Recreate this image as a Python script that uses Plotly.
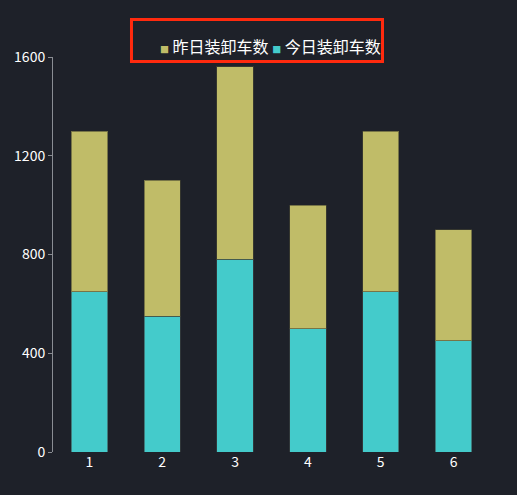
import plotly.graph_objects as go

''' datos '''
categorias = ['1', '2', '3', '4', '5', '6']
hoy = [650, 550, 780, 500, 650, 450]       # 今日装卸车数
ayer = [650, 550, 780, 500, 650, 450]      # 昨日装卸车数

fondo = '#1e2129'
fuente = 'Noto Sans CJK SC'
col_hoy = '#44cbcb'
col_ayer = '#c0bc68'

fig = go.Figure()
fig.add_trace(
    go.Bar(
        x=categorias,
        y=hoy,
        name='今日装卸车数',
        marker=dict(color=col_hoy, line=dict(color='rgba(60,70,70,0.6)', width=1)),
        showlegend=False,
    )
)
fig.add_trace(
    go.Bar(
        x=categorias,
        y=ayer,
        name='昨日装卸车数',
        marker=dict(color=col_ayer, line=dict(color='rgba(70,70,50,0.6)', width=1)),
        showlegend=False,
    )
)

# leyenda hecha a mano (cuadritos pequeños)
cuadro = "<span style='font-size:9px;color:%s'>■</span>"
leyenda = (cuadro % col_ayer) + '&nbsp;昨日装卸车数&nbsp;' + (cuadro % col_hoy) + '&nbsp;今日装卸车数'
fig.add_annotation(
    text=leyenda, xref='paper', yref='paper',
    x=0.498, y=1.027, xanchor='center', yanchor='middle',
    showarrow=False, font=dict(size=16, color='#ffffff', family=fuente),
)

# recuadro rojo alrededor de la leyenda
fig.add_shape(
    type='rect', xref='paper', yref='paper',
    x0=0.1796, x1=0.754, y0=0.9886, y1=1.095,
    line=dict(color='#ff2a0e', width=3),
)

fig.update_layout(
    width=517, height=495,
    barmode='stack',
    bargap=0.5,
    paper_bgcolor=fondo,
    plot_bgcolor=fondo,
    margin=dict(l=53, r=27, t=57, b=43),
    font=dict(family=fuente, color='#ffffff', size=14),
    xaxis=dict(
        showline=False, showgrid=False, zeroline=False,
        ticks='', tickfont=dict(size=14, color='#ffffff'),
    ),
    yaxis=dict(
        range=[0, 1600], dtick=400,
        showline=True, linecolor='#8a8d93', linewidth=1,
        ticks='outside', ticklen=4, tickcolor='#8a8d93',
        showgrid=False, zeroline=False,
        tickfont=dict(size=14, color='#ffffff'),
    ),
)

fig.write_html(
    'out.html',
    config={'displayModeBar': False},
    post_script="document.body.style.margin='0';document.body.style.background='%s';" % fondo,
)
